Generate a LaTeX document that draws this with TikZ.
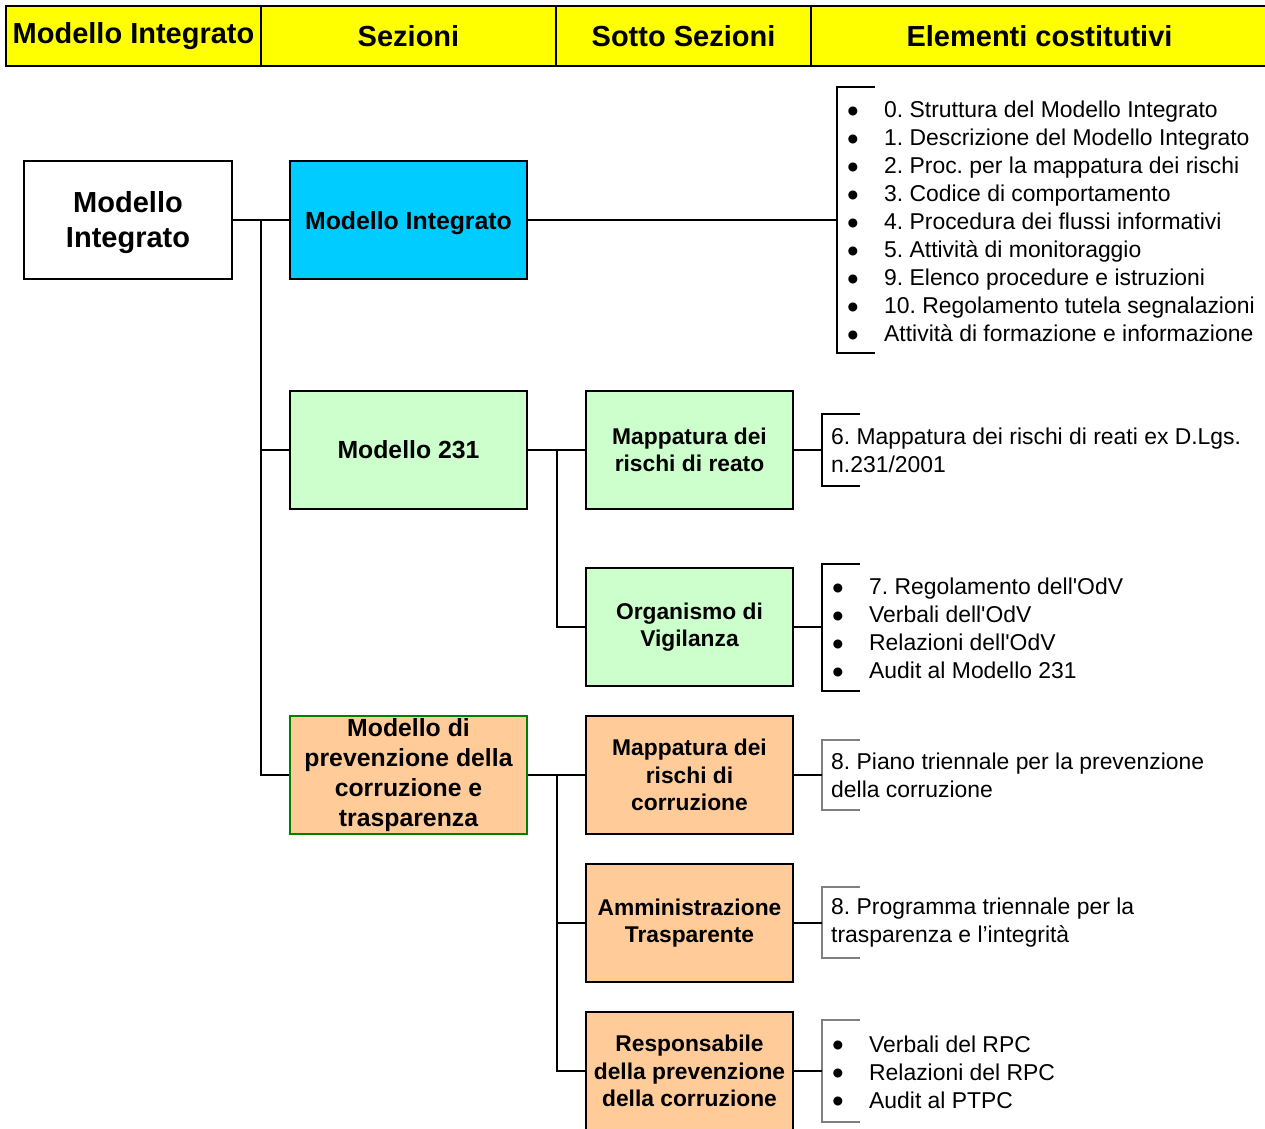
\documentclass[tikz,border=0pt]{standalone}
\usepackage{fontspec}
\setmainfont{Liberation Sans}
\definecolor{hdr}{HTML}{FFFF00}
\definecolor{cyanbox}{HTML}{00CCFF}
\definecolor{greenbox}{HTML}{CCFFCC}
\definecolor{orangebox}{HTML}{FFCC99}
\definecolor{greenline}{HTML}{008000}
\definecolor{thingray}{HTML}{808080}
\newcommand\bitem{\makebox[37pt][l]{\raisebox{-0.2em}[0pt][0pt]{\scalebox{1.45}{\textbullet}}}}
\newcommand\ap{\textquotesingle}
\newcommand\dn[1]{\raisebox{-3pt}[\height][\depth]{#1}}
\frenchspacing
\begin{document}
\begin{tikzpicture}[x=1pt,y=-1pt,
  hdrcell/.style={draw=black,line width=2.6pt,fill=hdr,minimum height=60pt,inner sep=0pt,font=\fontsize{29}{35}\selectfont\bfseries},
  box/.style={draw=black,line width=2.2pt,minimum height=118pt,inner sep=0pt,align=center},
  mainbox/.style={box,minimum width=237pt,font=\fontsize{24.8}{30}\selectfont\bfseries},
  subbox/.style={box,minimum width=207pt,fill=orangebox,font=\fontsize{22.8}{27.5}\selectfont\bfseries},
  listtext/.style={inner sep=0pt,align=left,anchor=west,font=\fontsize{22.9}{28}\selectfont},
  conn/.style={line width=2pt},
  brk/.style={line width=2pt},
  thinbrk/.style={line width=1.2pt,draw=thingray}
]
\useasboundingbox (0,0) rectangle (1265,1128);
\fill[white] (0,0) rectangle (1265,1128);

% header
\node[hdrcell,minimum width=255pt] (h1) at (133.5,36) {Modello Integrato};
\node[hdrcell,minimum width=295pt] (h2) at (408.5,36) {Sezioni};
\node[hdrcell,minimum width=255pt] (h3) at (683.5,36) {Sotto Sezioni};
\node[hdrcell,minimum width=457pt] (h4) at (1039.5,36) {Elementi costitutivi};

% boxes
\node[box,minimum width=208pt,fill=white,font=\fontsize{29}{35}\selectfont\bfseries] (root) at (128,220) {\dn{Modello}\\\dn{Integrato}};
\node[mainbox,fill=cyanbox] (MI) at (408.5,220) {\dn{Modello Integrato}};
\node[mainbox,fill=greenbox] (M231) at (408.5,450) {Modello 231};
\node[mainbox,fill=orangebox,draw=greenline,font=\fontsize{24.8}{30}\selectfont\bfseries] (MPC) at (408.5,775) {Modello di\\prevenzione della\\corruzione e\\trasparenza};
\node[subbox,fill=greenbox] (MR) at (689.5,450) {Mappatura dei\\rischi di reato};
\node[subbox,fill=greenbox] (OdV) at (689.5,627) {Organismo di\\Vigilanza};
\node[subbox] (MRC) at (689.5,775) {Mappatura dei\\rischi di\\corruzione};
\node[subbox] (AT) at (689.5,923) {Amministrazione\\Trasparente};
\node[subbox] (RPC) at (689.5,1071) {Responsabile\\della prevenzione\\della corruzione};

% lists
\node[listtext] (L1) at (847,221.5) {\bitem 0. Struttura del Modello Integrato\\
\bitem 1. Descrizione del Modello Integrato\\
\bitem 2. Proc. per la mappatura dei rischi\\
\bitem 3. Codice di comportamento\\
\bitem 4. Procedura dei flussi informativi\\
\bitem 5. Attività di monitoraggio\\
\bitem 9. Elenco procedure e istruzioni\\
\bitem 10. Regolamento tutela segnalazioni\\
\bitem Attività di formazione e informazione};
\node[listtext] (L2) at (831,450) {6. Mappatura dei rischi di reati ex D.Lgs.\\n.231/2001};
\node[listtext] (L3) at (832,628.5) {\bitem 7. Regolamento dell\ap OdV\\
\bitem Verbali dell\ap OdV\\
\bitem Relazioni dell\ap OdV\\
\bitem Audit al Modello 231};
\node[listtext] (L4) at (831,775) {8. Piano triennale per la prevenzione\\della corruzione};
\node[listtext] (L5) at (831,923) {8. Programma triennale per la\\trasparenza e l’integrità};
\node[listtext] (L6) at (832,1072) {\bitem Verbali del RPC\\
\bitem Relazioni del RPC\\
\bitem Audit al PTPC};

% brackets
\draw[brk] (875,87) -- (837,87) -- (837,353) -- (875,353);
\draw[brk] (860,414) -- (822,414) -- (822,486) -- (860,486);
\draw[brk] (860,564) -- (822,564) -- (822,691) -- (860,691);
\draw[thinbrk] (860,740) -- (822,740) -- (822,810) -- (860,810);
\draw[thinbrk] (860,887) -- (822,887) -- (822,958) -- (860,958);
\draw[thinbrk] (860,1020) -- (822,1020) -- (822,1122) -- (860,1122);
\coordinate (b1) at (837,220);
\coordinate (b2) at (822,450);
\coordinate (b3) at (822,627);
\coordinate (b4) at (822,775);
\coordinate (b5) at (822,923);
\coordinate (b6) at (822,1071);

% trunk coordinates
\coordinate (t1) at (261,220);
\coordinate (t2) at (557,450);
\coordinate (t3) at (557,775);

% connectors
\draw[conn] (root.east) -- (MI.west);
\draw[conn] (t1) |- (M231.west);
\draw[conn] (t1) |- (MPC.west);
\draw[conn] (M231.east) -- (MR.west);
\draw[conn] (t2) |- (OdV.west);
\draw[conn] (MPC.east) -- (MRC.west);
\draw[conn] (t3) |- (AT.west);
\draw[conn] (t3) |- (RPC.west);
\draw[conn] (MI.east) -- (b1);
\draw[conn] (MR.east) -- (b2);
\draw[conn] (OdV.east) -- (b3);
\draw[conn] (MRC.east) -- (b4);
\draw[conn] (AT.east) -- (b5);
\draw[conn] (RPC.east) -- (b6);
\end{tikzpicture}
\end{document}
